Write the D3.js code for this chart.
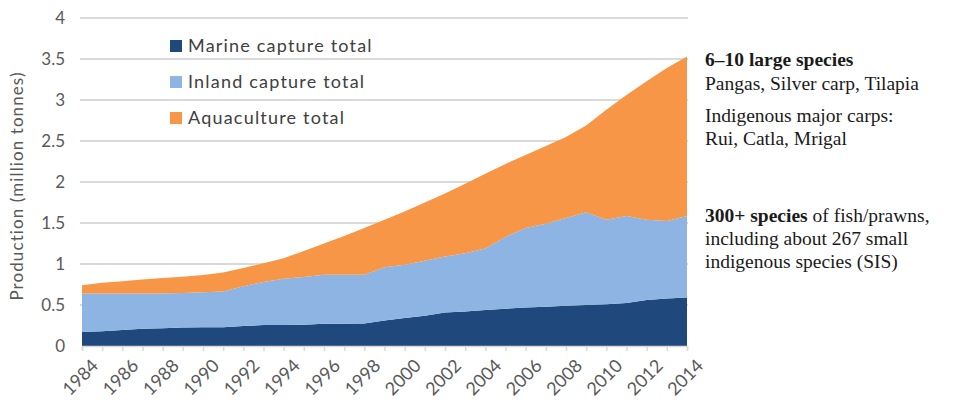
<!DOCTYPE html>
<html>
<head>
<meta charset="utf-8">
<script src="https://cdn.jsdelivr.net/npm/d3@7"></script>
<style>
  body { margin: 0; background: #fff; }
  svg text { font-family: Lato, "Open Sans", sans-serif; }
  svg .note text { font-family: "Liberation Serif", "DejaVu Serif", serif; fill: #1a1a1a; }
</style>
</head>
<body>
<div id="chart-container"></div>
<script>
const years = d3.range(1984, 2015);
const marine = [0.17, 0.18, 0.195, 0.21, 0.215, 0.225, 0.23, 0.23, 0.245, 0.255, 0.255, 0.26, 0.27, 0.27, 0.275,
  0.31, 0.34, 0.37, 0.41, 0.42, 0.44, 0.455, 0.47, 0.48, 0.49, 0.50, 0.51, 0.525, 0.56, 0.58, 0.59];
const inland = [0.47, 0.46, 0.445, 0.43, 0.425, 0.42, 0.425, 0.435, 0.485, 0.525, 0.565, 0.58, 0.60, 0.60, 0.595,
  0.65, 0.65, 0.67, 0.68, 0.71, 0.75, 0.875, 0.97, 1.01, 1.07, 1.13, 1.03, 1.06, 0.98, 0.945, 0.995];
const aquaculture = [0.10, 0.13, 0.15, 0.17, 0.19, 0.20, 0.21, 0.23, 0.22, 0.23, 0.25, 0.32, 0.38, 0.47, 0.57,
  0.58, 0.65, 0.71, 0.77, 0.85, 0.91, 0.89, 0.89, 0.95, 0.99, 1.06, 1.34, 1.475, 1.69, 1.865, 1.945];
const seriesNames = ["Marine capture total", "Inland capture total", "Aquaculture total"];
const seriesKeys = ["marine", "inland", "aquaculture"];
const yTicks = [0, 0.5, 1, 1.5, 2, 2.5, 3, 3.5, 4];

const colors = { marine: "#1f497d", inland: "#8eb4e3", aquaculture: "#f79646" };

const width = 966, height = 407;
const rows = years.map((y, i) => ({ year: y, marine: marine[i], inland: inland[i], aquaculture: aquaculture[i] }));

const svg = d3.select("#chart-container").append("svg")
  .attr("width", width).attr("height", height);

const x = d3.scaleLinear().domain([1984, 2014]).range([82, 687]);
const y = d3.scaleLinear().domain([0, 4]).range([346, 18]);

// gridlines
svg.append("g").selectAll("line").data(yTicks.slice(1)).enter().append("line")
  .attr("x1", 80).attr("x2", 688)
  .attr("y1", d => y(d)).attr("y2", d => y(d))
  .style("stroke", "#d9d9d9").style("stroke-width", 2);

const stack = d3.stack().keys(seriesKeys);
const area = d3.area()
  .x(d => x(d.data.year))
  .y0(d => y(d[0]))
  .y1(d => y(d[1]));

svg.append("g").selectAll("path").data(stack(rows)).enter().append("path")
  .attr("d", area)
  .style("fill", d => colors[d.key]);

// x axis
const xAxis = svg.append("g").attr("transform", "translate(0,346)")
  .call(d3.axisBottom(x).tickValues(years).tickSize(5).tickFormat(d => d % 2 === 0 ? d : ""));
xAxis.select(".domain").style("stroke", "#d9d9d9").style("stroke-width", 1.5);
xAxis.selectAll(".tick line").style("stroke", "#d9d9d9").style("stroke-width", 1.5);
xAxis.selectAll("text")
  .style("font-size", "18px").style("fill", "#595959")
  .attr("text-anchor", "end")
  .attr("transform", "translate(8,12) rotate(-45)")
  .attr("dy", "0.7em").attr("y", 0).attr("x", 0);

// y axis labels
svg.append("g").selectAll("text").data(yTicks).enter().append("text")
  .attr("x", 65).attr("y", d => y(d)).attr("dy", "0.35em")
  .attr("text-anchor", "end")
  .style("font-size", "17px").style("fill", "#595959")
  .text(d => d);

svg.append("text")
  .attr("transform", "translate(23,186) rotate(-90)")
  .attr("text-anchor", "middle")
  .style("font-size", "17px").style("fill", "#595959").style("letter-spacing", "1.1px")
  .text("Production (million tonnes)");

// legend
const legend = svg.append("g").selectAll("g").data(seriesKeys).enter().append("g")
  .attr("transform", (d, i) => `translate(170,${40 + i * 36})`);
legend.append("rect").attr("width", 12).attr("height", 12).style("fill", d => colors[d]);
legend.append("text").attr("x", 18).attr("y", 12)
  .style("font-size", "18px").style("fill", "#404040").style("letter-spacing", "1.2px")
  .text((d, i) => seriesNames[i]);

// annotations
const notes = svg.append("g").attr("class", "note").style("font-size", "19.5px");
const n1 = notes.append("text").attr("x", 705).attr("y", 66);
n1.append("tspan").style("font-weight", "bold").text("6–10 large species");
notes.append("text").attr("x", 705).attr("y", 90).text("Pangas, Silver carp, Tilapia");
notes.append("text").attr("x", 705).attr("y", 122).text("Indigenous major carps:");
notes.append("text").attr("x", 705).attr("y", 145).text("Rui, Catla, Mrigal");
const n2 = notes.append("text").attr("x", 705).attr("y", 222);
n2.append("tspan").style("font-weight", "bold").text("300+ species");
n2.append("tspan").text(" of fish/prawns,");
notes.append("text").attr("x", 705).attr("y", 245).text("including about 267 small");
notes.append("text").attr("x", 705).attr("y", 268).text("indigenous species (SIS)");
</script>
</body>
</html>
